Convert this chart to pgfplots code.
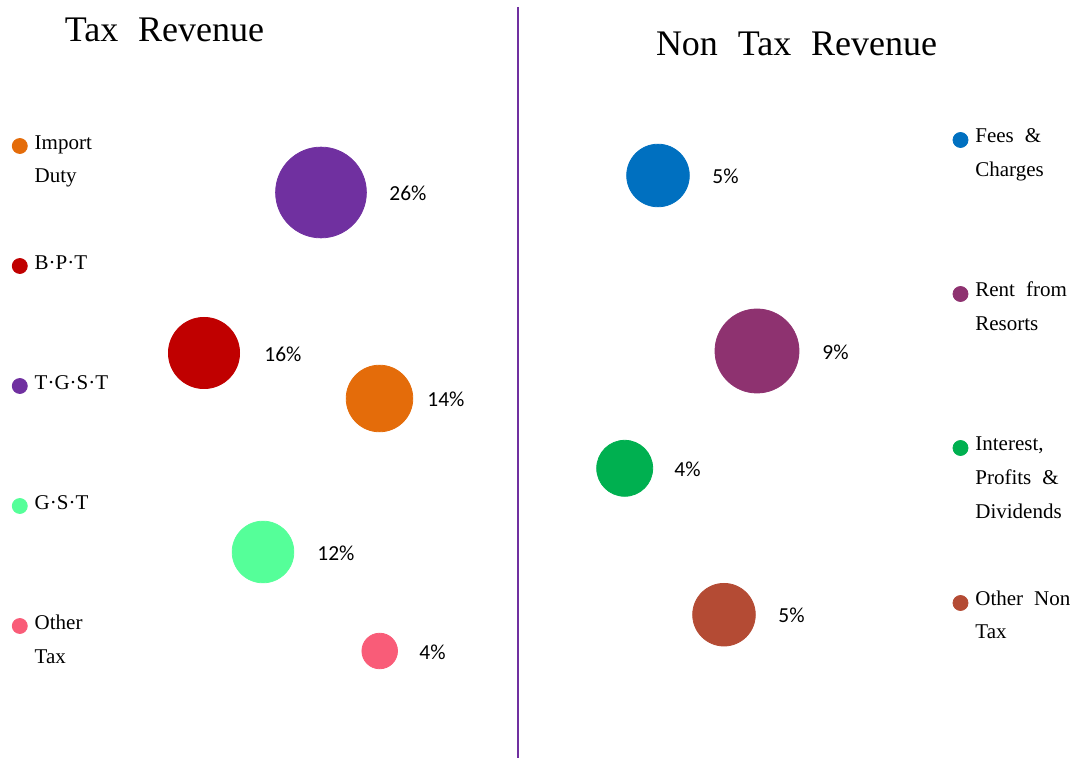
\documentclass[border=0pt]{standalone}
\usepackage{fontspec}
\setmainfont{Liberation Serif}
\newfontfamily\calibri{Carlito}
\usepackage{pgfplots}
\usepackage{pgfplotstable}
\pgfplotsset{compat=1.18}

\definecolor{cImp}{HTML}{E46C0A}
\definecolor{cBPT}{HTML}{C00000}
\definecolor{cTGST}{HTML}{7030A0}
\definecolor{cGST}{HTML}{55FF99}
\definecolor{cOth}{HTML}{F95C78}
\definecolor{cFee}{HTML}{0070C0}
\definecolor{cRent}{HTML}{8E3270}
\definecolor{cInt}{HTML}{00B050}
\definecolor{cONT}{HTML}{B44B34}

% bubble centre and label start in px, v = share in percent, c = colour
\pgfplotstableread{
x     y     v   lx   c
321   192.5 26  389  cTGST
204   353   16  264  cBPT
379.5 398.5 14  427  cImp
263   552   12  317  cGST
379.7 651   4   419  cOth
}\taxdata

\pgfplotstableread{
x     y     v   lx   c
658   175.5 5   712  cFee
757   351   9   822  cRent
624.7 468.3 4   674  cInt
724   614.7 5   778  cONT
}\nontaxdata

\pgfplotstableread{
x     y    c
19.8  146  cImp
19.8  266  cBPT
19.8  386  cTGST
19.8  506  cGST
19.8  626  cOth
960.5 140  cFee
960.5 294  cRent
960.5 448  cInt
960.5 603  cONT
}\legdata

\tikzset{leg/.style={anchor=base west, inner sep=0pt, font=\fontsize{10.5}{12}\selectfont}}

\pgfplotsset{
  bubbles/.style={
    scatter, only marks, mark=*, point meta=explicit symbolic,
    scatter/@pre marker code/.code={%
      \scope[draw=\pgfplotspointmeta, fill=\pgfplotspointmeta, mark size=\rad pt]},
    scatter/@post marker code/.code={\endscope},
  },
  % #1 = radius in pt per sqrt(percent)
  sized/.style={bubbles, visualization depends on={#1*sqrt(\thisrow{v}) \as \rad}},
  pctlabels/.style={
    only marks, mark=none, point meta=explicit symbolic,
    visualization depends on={0.5*(\thisrow{lx}-\thisrow{x}) \as \gap},
    nodes near coords={\calibri\fontsize{10.7}{12}\selectfont\pgfplotspointmeta\%},
    nodes near coords align=horizontal,
    every node near coord/.append style={anchor=west, xshift=\gap pt,
      yshift=-0.5pt, inner sep=0pt, text=black},
  },
}

\begin{document}
\begin{tikzpicture}
\begin{axis}[
    scale only axis,
    width=539pt, height=379pt,
    xmin=0, xmax=1078, ymin=0, ymax=758,
    y dir=reverse,
    hide axis,
    clip=false,
]
\path (rel axis cs:0,0) rectangle (rel axis cs:1,1);

\addplot[cTGST, line width=1pt, mark=none] coordinates {(517.5,7) (517.5,758)};

\addplot[sized=4.45] table[x=x, y=y, meta=c] {\taxdata};
\addplot[pctlabels] table[x=x, y=y, meta=v] {\taxdata};
\addplot[sized=7.0] table[x=x, y=y, meta=c] {\nontaxdata};
\addplot[pctlabels] table[x=x, y=y, meta=v] {\nontaxdata};
\addplot[bubbles, visualization depends on={3.75 \as \rad}] table[x=x, y=y, meta=c] {\legdata};

\node[anchor=base, inner sep=0pt, font=\fontsize{18}{22}\selectfont]
  at (axis cs:164.5,42) {Tax\hspace{0.55em}Revenue};
\node[anchor=base, inner sep=0pt, font=\fontsize{18}{22}\selectfont]
  at (axis cs:796.5,56) {Non\hspace{0.55em}Tax\hspace{0.55em}Revenue};

\node[leg] at (axis cs:34.3,150) {Import};
\node[leg] at (axis cs:34.3,183) {Duty};
\node[leg] at (axis cs:34.3,270) {B·P·T};
\node[leg] at (axis cs:34.3,390) {T·G·S·T};
\node[leg] at (axis cs:34.3,510) {G·S·T};
\node[leg] at (axis cs:34.3,630) {Other};
\node[leg] at (axis cs:34.3,663) {Tax};

\node[leg] at (axis cs:975,143) {Fees\hspace{5.5pt}\&};
\node[leg] at (axis cs:975,177) {Charges};
\node[leg] at (axis cs:975,297) {Rent\hspace{5.5pt}from};
\node[leg] at (axis cs:975,331) {Resorts};
\node[leg] at (axis cs:975,451) {Interest,};
\node[leg] at (axis cs:975,485) {Profits\hspace{5.5pt}\&};
\node[leg] at (axis cs:975,519) {Dividends};
\node[leg] at (axis cs:975,606) {Other\hspace{5.5pt}Non};
\node[leg] at (axis cs:975,639) {Tax};
\end{axis}
\end{tikzpicture}
\end{document}
